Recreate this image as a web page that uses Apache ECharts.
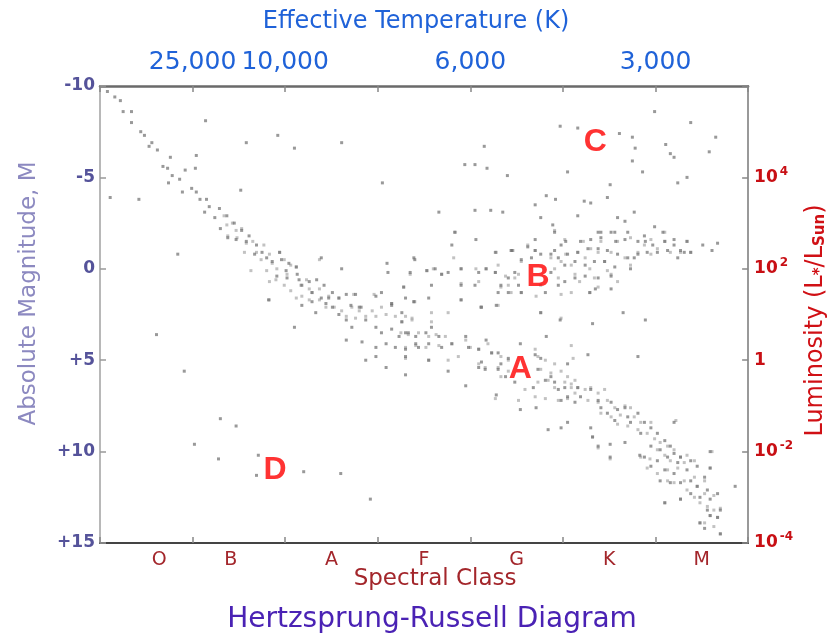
<!DOCTYPE html>
<html>
<head>
<meta charset="utf-8">
<script src="https://cdn.jsdelivr.net/npm/echarts@6/dist/echarts.min.js"></script>
<style>
  html, body { margin: 0; padding: 0; background: #fff; }
  #chart { width: 836px; height: 639px; }
</style>
</head>
<body>
<div id="chart"></div>
<script>
// 光谱型 (x 轴按类别分格 0..7)
var spectralClasses = ['O', 'B', 'A', 'F', 'G', 'K', 'M'];
// 顶部温度刻度
var tempTicks = [1, 2, 4, 6];
var tempLabels = ['25,000', '10,000', '6,000', '3,000'];
// 星等刻度 和 对应光度指数
var magTicks = [-10, -5, 0, 5, 10, 15];
var lumExponents = [null, '4', '2', '', '-2', '-4'];

// 主序星 [光谱位置, 绝对星等]
var mainSequence = [
  [0.08,-9.7],[0.16,-9.4],[0.22,-9.2],[0.25,-8.6],[0.34,-8.6],[0.34,-8.0],[0.44,-7.5],[0.48,-7.3],[0.53,-6.7],[0.56,-6.9],
  [0.62,-6.5],[0.76,-6.1],[0.68,-5.6],[0.73,-5.5],[0.78,-5.1],[0.92,-5.4],[0.74,-4.7],[0.86,-4.9],[0.89,-4.2],[0.99,-4.4],
  [1.04,-4.2],[1.08,-3.8],[1.15,-3.8],[1.18,-3.4],[1.13,-3.1],[1.29,-3.3],[1.24,-2.8],[1.37,-2.9],[1.45,-2.5],[1.53,-2.1],
  [1.30,-2.2],[1.38,-1.7],[1.47,-1.6],[1.61,-1.8],[1.58,-1.5],[1.69,-1.3],[1.75,-0.9],[1.67,-0.8],[1.80,-0.6],[1.94,-0.9],
  [1.86,-0.4],[1.96,-0.5],[2.04,-0.3],[2.12,-0.1],[2.01,0.1],[1.91,0.4],[2.02,0.5],[2.13,0.3],[2.15,0.6],[2.26,0.7],
  [2.34,0.6],[2.18,0.9],[2.42,0.9],[2.29,1.3],[2.39,1.6],[2.47,1.6],[2.51,1.3],[2.58,1.6],[2.66,1.4],[2.76,1.4],
  [2.71,2.0],[2.82,2.1],[2.98,1.5],[3.04,1.3],[3.15,1.9],[3.30,1.6],[3.39,1.8],[3.35,0.2],[3.40,-0.5],[3.10,-0.3],
  [3.11,0.2],[2.61,0.0],[3.28,1.0],[2.39,-0.6],[1.82,1.7],
  [2.33,2.4],[2.51,2.1],[2.58,2.5],[2.66,2.8],[2.72,3.2],[2.87,2.8],[2.98,3.2],[3.04,3.5],[3.15,3.3],[3.23,3.7],
  [3.33,3.5],[3.41,4.1],[2.66,3.9],[2.83,4.0],[2.98,4.3],[3.09,4.1],[3.19,4.3],[3.30,4.4],[2.87,5.0],[2.98,4.8],
  [3.09,5.4],[3.30,5.8],[2.44,1.9],[2.18,2.0],[2.29,1.8],[3.15,2.0],[3.26,2.4],[2.80,2.1],
  [3.26,2.9],[3.30,3.5],[3.41,3.7],[3.52,3.5],[3.58,3.2],[3.66,3.7],[3.44,4.3],[3.55,4.1],[3.30,4.8],[3.55,5.0],
  [3.69,4.3],[3.80,4.1],[3.95,3.7],[3.98,4.3],[4.09,4.4],[4.17,3.9],[4.12,5.1],[4.23,4.6],[4.30,4.6],[4.41,4.9],
  [4.33,5.2],[4.16,5.5],[4.09,5.4],[4.30,5.5],[4.38,5.9],[4.54,4.1],[4.70,4.7],[4.76,4.9],[4.73,5.5],[4.81,6.1],
  [4.87,5.9],[4.91,6.2],[4.95,6.6],[5.02,6.5],[5.05,7.0],[5.16,6.5],[5.19,7.0],[5.13,7.3],[4.98,7.2],[5.30,6.6],
  [5.38,7.2],[5.41,7.6],[5.52,7.3],[5.48,7.9],[5.59,7.7],[5.67,7.6],[5.70,8.1],[5.56,8.3],[5.81,7.9],[5.73,8.4],
  [5.88,8.4],[5.95,8.7],[5.84,9.0],[6.02,9.0],[6.10,9.4],[6.16,9.7],[6.05,9.9],[5.95,9.7],[6.20,10.1],[6.27,10.3],
  [6.38,10.5],[6.24,10.6],[6.13,10.3],[6.02,10.5],[5.88,10.3],[5.83,10.2],[5.95,10.8],[6.10,11.0],[6.20,11.2],[6.34,11.0],
  [6.45,10.8],[6.59,10.9],[6.53,11.4],[6.38,11.6],[6.27,11.7],[6.16,11.7],[6.05,11.6],[6.45,11.9],[6.56,12.1],[6.67,12.3],
  [6.48,12.5],[6.38,12.3],[6.27,12.6],[6.59,12.6],[6.70,13.2],[6.56,13.2],[6.67,13.6],[6.48,13.9],[6.59,13.5],[6.53,14.2],
  [6.70,14.5],[6.86,11.9],[6.59,10.0],[6.20,8.4],[5.81,4.8],[5.32,3.0],[5.65,2.4],[5.89,2.8],[4.97,2.8],[4.82,3.7],
  [5.27,4.7],[5.05,5.2],[4.54,7.7],[4.84,8.8],[4.98,8.7],[5.05,8.4],[5.30,8.7],[5.32,9.2],[5.51,9.6],[5.51,10.3],
  [5.38,9.7],[5.67,9.5],[6.10,12.8],[3.95,6.4],[3.76,5.6],[4.28,6.9],[4.48,6.2],[4.68,6.5],[4.71,7.6]
];

// 主序星 (较淡的点)
var mainSequenceFaint = [
  [1.34,-2.9],[1.43,-2.5],[1.37,-2.4],[1.47,-2.1],[1.53,-2.2],[1.38,-1.8],[1.48,-1.7],[1.58,-1.4],[1.65,-1.5],[1.77,-1.3],
  [1.56,-0.9],[1.69,-0.9],[1.83,-0.8],[1.94,-0.9],[1.74,-0.5],[1.86,-0.3],[1.99,-0.5],[1.63,0.1],[1.80,0.1],[1.91,0.0],
  [2.06,-0.2],[2.12,-0.1],[2.02,0.3],[1.90,0.6],[1.83,0.7],[1.99,0.9],[2.06,1.2],[2.17,0.9],[2.23,0.6],[2.26,1.1],
  [2.29,1.3],[2.37,1.1],[2.18,1.5],[2.12,1.6],[2.26,1.7],[2.37,1.7],[2.47,1.5],[2.58,1.6],[2.44,2.1],[2.53,2.1],
  [2.61,2.3],[2.72,2.1],[2.80,2.3],[2.66,2.6],[2.76,2.7],[2.87,2.6],[2.98,2.6],[3.09,2.5],[3.19,2.6],[3.30,2.6],
  [3.37,2.7],[2.94,2.3],[3.04,2.1],[3.15,1.9],[1.83,1.7],[2.37,-0.5],[2.74,1.4],[2.96,1.4],
  [3.39,1.8],[4.11,2.1],[3.26,2.9],[3.37,2.8],[3.58,2.9],[3.25,3.5],[3.33,3.6],[3.44,3.5],[3.55,3.7],[3.63,3.6],
  [3.73,3.7],[3.30,4.3],[3.41,4.2],[3.52,4.3],[3.66,4.2],[3.80,4.1],[3.95,3.9],[4.00,4.3],[4.09,4.4],[4.19,4.1],
  [4.23,4.6],[4.33,4.8],[4.41,5.0],[3.30,4.9],[3.55,5.0],[3.76,5.0],[3.87,4.8],[4.09,5.2],[4.16,5.4],[4.30,5.4],
  [4.33,5.9],[4.41,5.6],[4.70,4.4],[4.73,4.8],[4.81,5.0],[4.91,5.2],[4.76,5.5],[4.87,5.7],[4.98,5.6],[5.05,5.9],
  [4.73,6.2],[4.84,6.1],[4.91,6.5],[5.02,6.2],[5.09,6.5],[5.13,6.1],[4.70,7.0],[4.81,7.1],[4.95,7.2],[5.05,7.1],
  [5.11,4.9],[5.09,4.2],[4.98,2.7],[4.76,2.4],[4.27,7.1],[4.52,7.2],[4.59,6.6],
  [5.09,6.3],[5.16,6.5],[5.24,6.6],[5.13,6.8],[5.30,6.5],[5.38,6.8],[5.45,6.6],[5.27,7.2],[5.38,7.3],[5.48,7.2],
  [5.56,7.6],[5.67,7.5],[5.73,7.6],[5.41,7.9],[5.52,8.1],[5.62,8.0],[5.77,8.1],[5.84,8.4],[5.95,8.4],[5.59,8.5],
  [5.70,8.6],[5.81,8.8],[5.91,9.0],[5.99,9.3],[6.05,9.5],[6.13,9.7],[6.20,9.9],[6.02,9.9],[6.10,10.2],[6.16,10.5],
  [6.27,10.3],[6.34,10.2],[6.42,10.5],[6.31,10.6],[6.24,10.9],[6.13,11.0],[6.02,11.2],[5.91,10.9],[5.84,10.3],[5.94,10.4],
  [6.13,11.6],[6.20,11.7],[6.31,11.6],[6.42,11.4],[6.53,11.6],[6.45,11.9],[6.34,12.1],[6.27,12.6],[6.42,12.5],[6.53,12.3],
  [6.63,12.4],[6.48,12.8],[6.56,13.0],[6.63,13.2],[6.70,13.1],[6.59,13.5],[6.67,13.6],[6.53,13.9],[6.63,14.1],[6.70,14.5],
  [6.59,10.9],[6.61,10.0],[6.22,8.3],[5.51,10.4],[5.32,9.2],[5.38,9.8],[6.10,12.8],[6.48,13.9]
];

// 巨星支 (B)
var giants = [
  [5.38,-2.0],[5.52,-2.0],[5.57,-1.5],[5.67,-1.6],[5.81,-1.5],[5.89,-1.5],[5.97,-1.3],[6.10,-1.5],[6.20,-1.3],[6.34,-1.5],
  [6.38,-0.9],[6.31,-0.9],[6.24,-0.6],[6.13,-1.0],[6.02,-0.9],[5.91,-0.9],[5.81,-0.8],[5.70,-0.6],[5.59,-0.8],[5.48,-1.0],
  [5.38,-1.1],[5.27,-1.1],[5.16,-0.9],[5.05,-0.8],[4.95,-0.6],[4.91,-1.0],[5.02,-0.2],[5.13,-0.4],[5.24,-0.2],[5.34,-0.4],
  [5.45,-0.4],[5.56,-0.1],[5.73,0.0],[5.77,-0.6],[5.24,0.4],[5.38,0.5],[5.52,0.4],[5.52,1.1],[5.35,1.1],[5.29,1.3],
  [5.13,0.5],[5.02,0.7],[4.95,0.9],[4.87,0.2],[4.81,1.3],[4.48,0.2],[4.41,0.5],[4.33,0.9],[4.30,1.3],[4.52,0.9],
  [4.55,1.3],[4.41,1.3],[4.27,0.2],[4.17,0.0],[4.09,0.2],[4.05,0.9],[3.90,0.9],[3.90,0.0],[3.76,0.2],[3.69,0.3],
  [3.62,0.0],[3.53,0.1],[3.39,-0.6],[3.58,0.9],[3.55,1.6],[3.90,1.7],[4.12,2.1],[4.28,2.0],[4.76,2.4],[4.44,-1.0],
  [4.55,-0.5],[4.66,-0.6],[4.76,-0.8],[4.87,-0.8],[4.98,-1.3],[5.19,-1.5],[5.30,-1.6],[5.41,-1.7],[5.41,-2.0],[5.56,-2.0],
  [5.70,-2.0],[5.88,-1.8],[6.08,-2.0],[6.20,-1.6],[6.27,-1.0],[6.51,-1.3],[6.61,-1.0],[6.67,-1.4],
  [3.66,-3.1],[4.05,-3.2],[4.22,-3.2],[4.35,-3.1],[4.76,-2.8],[5.16,-2.9],[5.59,-2.8],[5.77,-3.1],[5.67,-2.6],[5.99,-2.3],
  [4.89,-2.4],[4.91,-2.0],[3.83,-2.0],[3.80,-1.3],[4.06,-1.6],[4.70,-1.6],[5.03,-1.5],[4.62,-1.2],[4.70,-1.0],[4.45,-1.0],
  [4.27,-0.9]
];

// 巨星支 (较淡的点)
var giantsFaint = [
  [3.35,0.3],[3.28,1.0],[3.40,1.8],[3.53,0.1],[3.60,0.0],[3.69,0.3],[3.82,-0.6],[3.84,-2.0],[3.90,0.0],[3.90,0.8],
  [4.06,0.0],[4.09,0.7],[4.17,0.0],[4.27,0.2],[4.30,-0.2],[4.28,-0.9],[4.38,0.4],[4.41,0.9],[4.46,-1.0],[4.48,0.5],
  [4.52,0.3],[4.55,-0.4],[4.33,1.0],[4.44,1.3],[4.55,1.3],[4.62,-1.3],[4.70,-1.0],[4.87,-0.6],[4.91,0.0],[4.95,0.5],
  [4.98,-0.4],[5.03,-0.8],[5.09,-0.2],[5.13,0.3],[5.18,0.7],[5.16,-0.9],[5.24,-0.6],[5.29,0.0],[5.34,0.5],[5.38,-0.9],
  [5.45,-0.4],[5.48,0.1],[5.41,-1.5],[5.52,-0.9],[5.59,-1.5],[5.67,-0.6],[5.73,-0.2],[5.81,-0.9],[5.88,-1.3],[5.95,-0.8],
  [6.02,-1.1],[6.10,-1.5],[6.16,-0.9],[6.27,-0.9],[6.34,-1.5],[6.38,-0.9],[6.10,-2.0],[5.95,-1.6],[5.73,-1.7],[5.30,-1.1],
  [5.22,-1.5],[5.02,-1.6],[4.91,-2.1],[5.52,0.3],[5.59,0.7],[5.38,1.0],[5.29,1.3],[5.09,1.3],[4.98,1.4],[4.76,0.9],
  [4.71,1.5],[4.12,2.1],[3.58,2.4],[3.76,2.4],[3.90,1.7],[4.30,2.0]
];

// 超巨星 (C)
var supergiants = [
  [4.97,-7.8],[5.16,-7.7],[5.61,-7.4],[5.75,-7.2],[5.78,-6.6],[5.75,-5.9],[5.86,-5.3],[6.11,-6.8],[6.16,-6.3],[6.20,-6.1],
  [6.38,-8.0],[6.65,-7.2],[6.58,-6.4],[6.34,-5.0],[6.24,-4.7],[5.05,-5.3],[5.51,-4.6],[4.15,-6.7],[3.94,-5.7],[4.05,-5.7],
  [4.18,-5.5],[4.40,-5.1],[4.82,-4.0],[4.92,-3.8],[4.70,-3.5],[5.23,-3.7],[5.30,-3.6],[5.48,-3.9],[5.99,-8.6],
  [1.14,-8.1],[1.03,-5.5],[0.42,-3.8],[1.52,-4.3],[1.92,-7.3],[2.10,-6.6],[1.58,-6.9],[2.61,-6.9],[3.05,-4.7],[0.84,-0.8],
  [1.04,-6.2],[0.11,-3.9]
];

// 白矮星及零散星 (D)
var whiteDwarfs = [
  [0.61,3.6],[0.91,5.6],[1.30,8.2],[1.47,8.6],[1.02,9.6],[1.28,10.4],[1.71,10.2],[1.69,11.3],[2.20,11.1],[2.60,11.2],
  [2.92,12.6],[2.10,3.2]
];

// 区域字母标注
var regionLabels = [[4.54, 5.5, 'A'], [4.73, 0.45, 'B'], [5.35, -6.9, 'C'], [1.89, 11.0, 'D']];

var font = 'DejaVu Sans';
var darkStar = { color: '#6e6e6e', opacity: 0.7 };
var lightStar = { color: '#9a9a9a', opacity: 0.6 };

function starSeries(name, data, style) {
  return { name: name, type: 'scatter', symbol: 'rect', symbolSize: 3, data: data, itemStyle: style, silent: true };
}

var chart = echarts.init(document.getElementById('chart'));
var option = {
  backgroundColor: '#fff',
  animation: false,
  title: {
    text: 'Hertzsprung-Russell Diagram',
    left: 427,
    textAlign: 'center',
    top: 601,
    textStyle: { fontFamily: font, fontSize: 28, fontWeight: 'normal', color: '#4a22b4' }
  },
  grid: { left: 100, right: 85, top: 86, bottom: 96, containLabel: false },
  xAxis: [
    {
      type: 'value', min: 0, max: 7, interval: 1, position: 'bottom',
      axisLine: { onZero: false, lineStyle: { color: '#444', width: 2 } },
      axisTick: { inside: true, length: 6, lineStyle: { color: '#888', width: 1.5 } },
      axisLabel: { show: false },
      splitLine: { show: false }
    },
    {
      type: 'category', data: spectralClasses, position: 'bottom',
      axisLine: { show: false, onZero: false }, axisTick: { show: false },
      axisLabel: {
        color: '#a3262b', fontFamily: font, fontSize: 19, margin: 8,
        formatter: function (v) {
          if (v === 'O') return '{o|O}';
          if (v === 'B') return '{b|B}';
          return v;
        },
        rich: {
          o: { color: '#a3262b', fontFamily: font, fontSize: 19, padding: [0, 0, 0, 26] },
          b: { color: '#a3262b', fontFamily: font, fontSize: 19, padding: [0, 16, 0, 0] }
        }
      },
      name: 'Spectral Class', nameLocation: 'middle', nameGap: 25, nameMoveOverlap: false,
      nameTextStyle: { color: '#a3262b', fontFamily: font, fontSize: 23, padding: [0, 0, 0, 22] }
    },
    {
      type: 'value', min: 0, max: 7, interval: 1, position: 'top',
      axisLine: { onZero: false, lineStyle: { color: '#6a6a6a', width: 2.5 } },
      axisTick: { inside: true, length: 6, lineStyle: { color: '#888', width: 1.5 } },
      splitLine: { show: false },
      axisLabel: {
        color: '#1f62d8', fontFamily: font, fontSize: 25, margin: 11,
        formatter: function (v) {
          var i = tempTicks.indexOf(v);
          return i >= 0 ? tempLabels[i] : '';
        }
      },
      name: 'Effective Temperature (K)', nameLocation: 'middle', nameGap: 52,
      nameTextStyle: { color: '#1f62d8', fontFamily: font, fontSize: 24, padding: [0, 16, 0, 0] }
    }
  ],
  yAxis: [
    {
      type: 'value', min: -10, max: 15, interval: 5, inverse: true, position: 'left',
      axisLine: { onZero: false, lineStyle: { color: '#b8b8b8', width: 2 } },
      axisTick: { inside: true, length: 6, lineStyle: { color: '#999', width: 1.5 } },
      splitLine: { show: false },
      axisLabel: {
        color: '#55539a', fontFamily: font, fontSize: 17, fontWeight: 'bold', margin: 5,
        formatter: function (v) { return v > 0 ? '+' + v : String(v); }
      },
      name: 'Absolute Magnitude, M', nameLocation: 'middle', nameGap: 59, nameRotate: 90,
      nameTextStyle: { color: '#8c89c0', fontFamily: font, fontSize: 23, padding: [0, 0, 0, 42] }
    },
    {
      type: 'value', min: -10, max: 15, interval: 5, inverse: true, position: 'right',
      axisLine: { onZero: false, lineStyle: { color: '#999', width: 2 } },
      axisTick: { inside: true, length: 6, lineStyle: { color: '#888', width: 1.5 } },
      splitLine: { show: false },
      axisLabel: {
        margin: 6,
        formatter: function (v) {
          var e = lumExponents[magTicks.indexOf(v)];
          if (e === null || e === undefined) return '';
          if (e === '') return '{b|1}';
          return '{b|10}{s|' + e + '}';
        },
        rich: {
          b: { color: '#c80f14', fontFamily: font, fontSize: 17, fontWeight: 'bold' },
          s: { color: '#c80f14', fontFamily: font, fontSize: 12, fontWeight: 'bold', padding: [0, 0, 12, 2] }
        }
      },
      name: '{t|Luminosity (L}{sub|*}{t|/L}{sub|Sun}{t|)}', nameLocation: 'middle', nameGap: 50, nameRotate: 90,
      nameTextStyle: {
        padding: [0, 12, 0, 0],
        rich: {
          t: { color: '#d01015', fontFamily: font, fontSize: 24 },
          sub: { color: '#d01015', fontFamily: font, fontSize: 15, fontWeight: 'bold', padding: [9, 0, 0, 0] }
        }
      }
    }
  ],
  series: [
    starSeries('mainFaint', mainSequenceFaint, lightStar),
    starSeries('giantsFaint', giantsFaint, lightStar),
    starSeries('main', mainSequence, darkStar),
    starSeries('giants', giants, darkStar),
    starSeries('supergiants', supergiants, darkStar),
    starSeries('dwarfs', whiteDwarfs, darkStar),
    {
      name: 'labels', type: 'scatter', symbolSize: 0, data: regionLabels,
      label: {
        show: true, position: 'inside',
        formatter: function (p) { return p.data[2]; },
        color: '#ff0000', fontFamily: 'Liberation Sans', fontSize: 32, fontWeight: 'bold'
      },
      z: 5
    }
  ]
};
chart.setOption(option);
</script>
</body>
</html>
